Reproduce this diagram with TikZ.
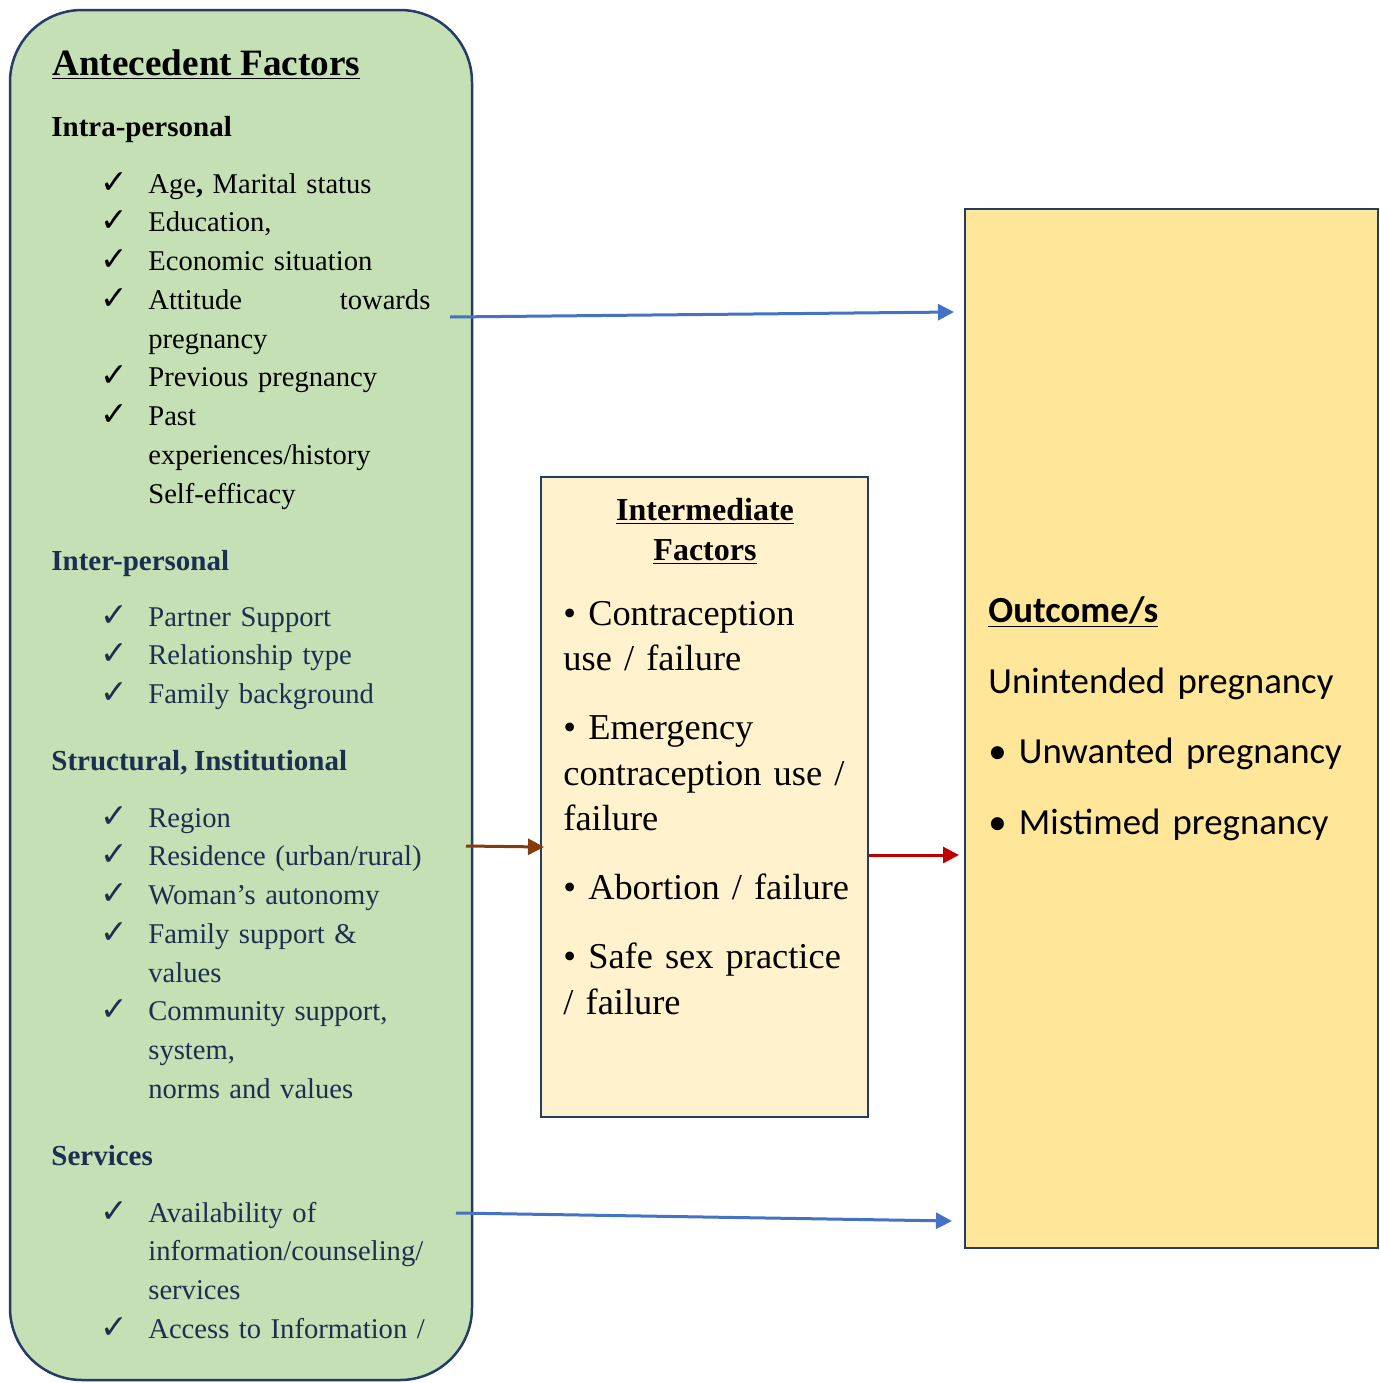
\documentclass[tikz,border=0pt]{standalone}
\usepackage{fontspec}
\setmainfont{Liberation Serif}[WordSpace=0.9]
\newfontfamily\calibrifont{Carlito}
\newfontfamily\symbfont{DejaVu Sans}
\usetikzlibrary{arrows.meta,positioning,calc,fit}

\definecolor{antefill}{HTML}{C5E0B4}
\definecolor{interfill}{HTML}{FFF2CC}
\definecolor{outfill}{HTML}{FFE699}
\definecolor{boxline}{HTML}{243D66}
\definecolor{navytext}{HTML}{1B2F50}
\definecolor{linkblue}{HTML}{4472C4}
\definecolor{linkbrown}{HTML}{843C0C}
\definecolor{linkred}{HTML}{C00000}

\newcommand{\tick}{\makebox[24pt][l]{\symbfont\fontsize{16.5}{12}\selectfont ✓}}
\newcommand{\indnt}{\hspace*{24pt}}

\begin{document}
\begin{tikzpicture}[
    x=0.5pt, y=-0.5pt,
    antebox/.style={draw=boxline, line width=1.25pt, fill=antefill, rounded corners=36pt, inner sep=0pt},
    interbox/.style={draw=boxline, line width=1pt, fill=interfill, inner sep=0pt},
    outbox/.style={draw=boxline, line width=1pt, fill=outfill, inner sep=0pt},
    bigtitle/.style={anchor=base west, inner sep=0pt, font=\fontsize{18.6}{22}\selectfont\bfseries},
    heading/.style={anchor=base west, inner sep=0pt, font=\fontsize{14.5}{17}\selectfont\bfseries},
    items/.style={anchor=base west, inner sep=0pt, text width=165pt, align=left, font=\fontsize{14.3}{19.375}\selectfont},
    midtext/.style={inner sep=0pt, font=\fontsize{18.2}{22.75}\selectfont},
    outtext/.style={anchor=base west, inner sep=0pt, text width=190pt, align=left, font=\calibrifont\fontsize{18.4}{35.25}\selectfont},
    link/.style={-{Triangle[length=8pt,width=8pt]}, line width=1.5pt}
]
    \useasboundingbox (0,0) rectangle (1380,1383);

    % Boxes
    \node[antebox, fit={(10,10) (472,1380)}] (antecedent) {};
    \node[interbox, fit={(541,477) (868,1117)}] (intermediate) {};
    \node[outbox, fit={(965,209) (1378,1248)}] (outcome) {};

    % Antecedent factors
    \node[bigtitle] (antetitle) at (52,75) {\underline{Antecedent Factors}};

    \node[heading] (intrahead) at (51,136) {Intra-personal};
    \node[items] (intralist) at (100,193) {
        \tick Age\textbf{,} Marital status\\
        \tick Education,\\
        \tick Economic situation\\
        \tick Attitude\hfill towards\\
        \indnt pregnancy\\
        \tick Previous pregnancy\\
        \tick Past\\
        \indnt experiences/history\\
        \indnt Self-efficacy
    };

    \node[heading, text=navytext] (interhead) at (51,570) {Inter-personal};
    \node[items, text=navytext] (interlist) at (100,626) {
        \tick Partner Support\\
        \tick Relationship type\\
        \tick Family background
    };

    \node[heading, text=navytext] (structhead) at (51,770) {Structural, Institutional};
    \node[items, text=navytext] (structlist) at (100,827) {
        \tick Region\\
        \tick Residence (urban/rural)\\
        \tick Woman's autonomy\\
        \tick Family support \&\\
        \indnt values\\
        \tick Community support,\\
        \indnt system,\\
        \indnt norms and values
    };

    \node[heading, text=navytext] (servhead) at (51,1165) {Services};
    \node[items, text=navytext] (servlist) at (100,1222) {
        \tick Availability of\\
        \indnt information/counseling/\\
        \indnt services\\
        \tick Access to Information /
    };

    % Intermediate factors
    \node[midtext, anchor=base, text width=160pt, align=center, font=\fontsize{16}{20}\selectfont\bfseries] (intertitle) at (705,520) {
        \underline{Intermediate}\\
        \underline{Factors}
    };
    \node[midtext, anchor=base west, text width=155pt, align=left] (interlist) at (563,625) {
        \textbullet{} Contraception\\
        use / failure\\[11.75pt]
        \textbullet{} Emergency\\
        contraception use /\\
        failure\\[11.75pt]
        \textbullet{} Abortion / failure\\[11.75pt]
        \textbullet{} Safe sex practice\\
        / failure
    };

    % Outcome
    \node[outtext, font=\calibrifont\fontsize{18.4}{22}\selectfont\bfseries] (outtitle) at (988,622) {\underline{Outcome/s}};
    \node[outtext] (outlist) at (988,693) {
        Unintended pregnancy\\
        \textbullet{} Unwanted pregnancy\\
        \textbullet{} Mistimed pregnancy
    };

    % Links
    \coordinate (intraout) at (450,317);
    \coordinate (structout) at (466,846);
    \coordinate (servout) at (456,1213);
    \draw[link, draw=linkblue, fill=linkblue] (intraout) -- ([shift={(-10,104)}]outcome.north west);
    \draw[link, draw=linkbrown, fill=linkbrown] (structout) -- ([shift={(4,371)}]intermediate.north west);
    \draw[link, draw=linkred, fill=linkred] ([shift={(0,379)}]intermediate.north east) -- ([shift={(-5,647)}]outcome.north west);
    \draw[link, draw=linkblue, fill=linkblue] (servout) -- ([shift={(-12,1013)}]outcome.north west);
\end{tikzpicture}
\end{document}
